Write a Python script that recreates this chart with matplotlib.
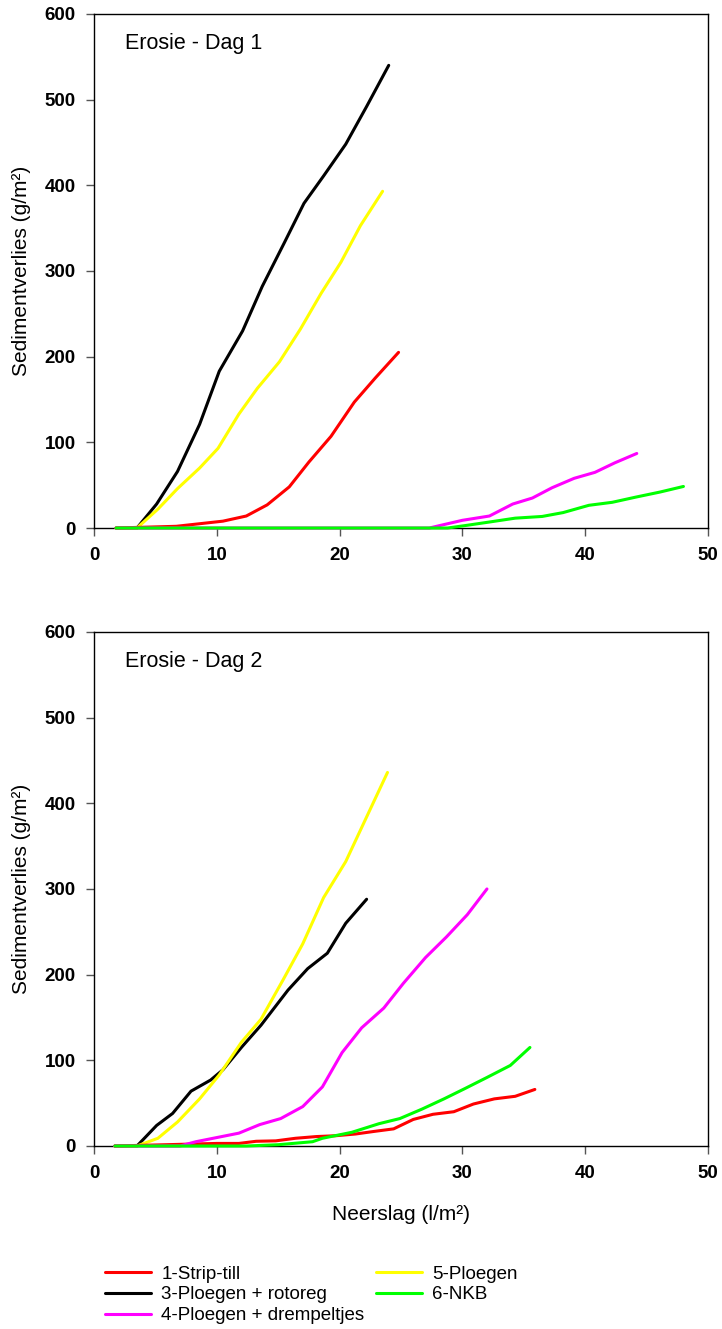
import matplotlib.pyplot as plt

plt.rcParams['font.family'] = ['Liberation Sans', 'DejaVu Sans']

labels = ["1-Strip-till", "3-Ploegen + rotoreg", "4-Ploegen + drempeltjes",
          "5-Ploegen", "6-NKB"]
colors = ["#ff0000", "#000000", "#ff00ff", "#ffff00", "#00ff00"]

# Dag 1
d1_strip_x = [1.8, 6.7, 10.5, 12.4, 14.1, 15.9, 17.5, 19.3, 21.2, 22.9, 24.8]
d1_strip_y = [0, 2, 8, 14, 27, 48, 77, 107, 147, 175, 205]
d1_rotor_x = [1.8, 3.5, 5.1, 6.8, 8.6, 10.2, 12.1, 13.7, 15.5, 17.1, 18.7, 20.5, 22.2, 24.0]
d1_rotor_y = [0, 0, 28, 66, 121, 183, 230, 282, 333, 379, 411, 448, 492, 540]
d1_drem_x = [1.8, 27.3, 30.0, 32.2, 34.1, 35.7, 37.3, 39.1, 40.8, 42.4, 44.2]
d1_drem_y = [0, 0, 9, 14, 28, 35, 47, 58, 65, 76, 87]
d1_ploeg_x = [1.8, 3.5, 5.2, 6.8, 8.6, 10.1, 11.8, 13.3, 15.1, 16.8, 18.5, 20.1, 21.7, 23.5]
d1_ploeg_y = [0, 0, 22, 46, 70, 93, 133, 163, 194, 232, 274, 310, 353, 393]
d1_nkb_x = [1.8, 28.8, 30.3, 32.2, 34.3, 36.5, 38.2, 40.3, 42.2, 44.1, 46.1, 48.0]
d1_nkb_y = [0, 0, 3, 7, 11.5, 13.5, 18, 26.5, 30, 36, 42, 48.5]

# Dag 2
d2_strip_x = [1.7, 10.0, 11.8, 13.2, 14.8, 16.4, 18.1, 19.7, 21.3, 22.8, 24.4, 26.0,
              27.6, 29.3, 30.9, 32.6, 34.3, 35.9]
d2_strip_y = [0, 3, 3, 5.5, 6, 9, 11, 12, 14, 17, 20, 31, 37, 40, 49, 55, 58, 66]
d2_rotor_x = [1.7, 3.5, 5.1, 6.4, 7.9, 9.5, 10.5, 12.0, 13.6, 15.8, 17.4, 19.0, 20.5, 22.2]
d2_rotor_y = [0, 0, 24, 38, 64, 77, 89, 115, 141, 182, 207, 225, 260, 288]
d2_drem_x = [1.7, 7.0, 8.3, 10.4, 11.8, 13.5, 15.2, 17.0, 18.6, 20.2, 21.8, 23.6,
             25.2, 27.0, 28.7, 30.4, 32.0]
d2_drem_y = [0, 0, 5, 11, 15, 25, 32, 46, 69, 109, 138, 161, 190, 220, 244, 270, 300]
d2_ploeg_x = [1.7, 3.5, 5.2, 6.8, 8.6, 10.2, 12.0, 13.6, 15.4, 17.0, 18.7, 20.5, 22.1, 23.9]
d2_ploeg_y = [0, 0, 9, 28, 55, 83, 121, 148, 194, 236, 290, 332, 381, 436]
d2_nkb_x = [1.7, 12.4, 15.0, 17.8, 18.6, 21.0, 23.2, 24.9, 26.7, 28.5, 30.2, 32.0, 33.9, 35.5]
d2_nkb_y = [0, 0, 1.5, 5, 9, 16, 26, 32, 43, 55, 67, 80, 94, 115]

dag1 = [(d1_strip_x, d1_strip_y), (d1_rotor_x, d1_rotor_y), (d1_drem_x, d1_drem_y),
        (d1_ploeg_x, d1_ploeg_y), (d1_nkb_x, d1_nkb_y)]
dag2 = [(d2_strip_x, d2_strip_y), (d2_rotor_x, d2_rotor_y), (d2_drem_x, d2_drem_y),
        (d2_ploeg_x, d2_ploeg_y), (d2_nkb_x, d2_nkb_y)]

# drawing order: magenta and green on top at zero
order = [1, 3, 0, 2, 4]

fig = plt.figure(figsize=(7.22, 13.29), dpi=100)
ax1 = fig.add_axes([0.1302, 0.6027, 0.8504, 0.3868])
ax2 = fig.add_axes([0.1302, 0.1377, 0.8504, 0.3868])

handles = {}
for ax, data, title in [(ax1, dag1, "Erosie - Dag 1"), (ax2, dag2, "Erosie - Dag 2")]:
    for i in order:
        x, y = data[i]
        ln, = ax.plot(x, y, color=colors[i], lw=2.2, label=labels[i],
                      solid_capstyle='round', clip_on=False, zorder=3)
        handles[i] = ln
    ax.set_xlim(0, 50)
    ax.set_ylim(0, 600)
    ax.set_xticks([0, 10, 20, 30, 40, 50])
    ax.set_yticks([0, 100, 200, 300, 400, 500, 600])
    ax.tick_params(direction='out', length=6, width=1, color='#555555',
                   labelsize=13.5)
    ax.tick_params(axis='y', pad=7)
    ax.tick_params(axis='x', pad=8)
    for lab in ax.get_xticklabels() + ax.get_yticklabels():
        lab.set_fontweight('bold')
    for s in ax.spines.values():
        s.set_linewidth(1)
    ax.set_ylabel("Sedimentverlies (g/m²)", fontsize=15, labelpad=10)
    ax.text(0.05, 0.943, title, transform=ax.transAxes, fontsize=15.5,
            va='center', ha='left')

ax2.set_xlabel("Neerslag (l/m²)", fontsize=15, labelpad=16)

fig.legend([handles[i] for i in range(5)], labels, loc='upper left',
           bbox_to_anchor=(0.1454, 0.0477), ncol=2, frameon=False, fontsize=13.5,
           handlelength=2.45, handletextpad=0.56, labelspacing=0.19,
           columnspacing=0.6, borderpad=0, borderaxespad=0)

fig.savefig("out.png", dpi=100)
